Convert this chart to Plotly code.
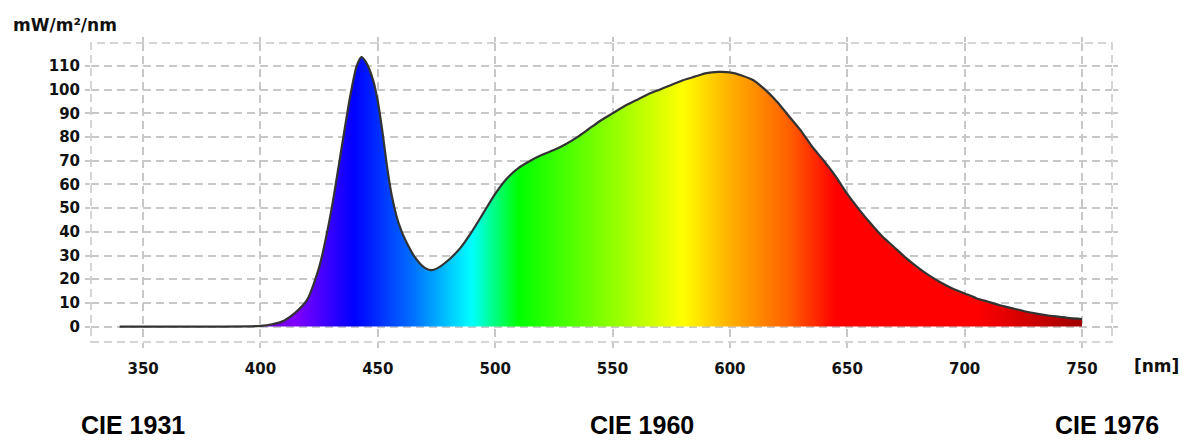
import plotly.graph_objects as go

wavelength_nm = [340, 400, 405, 410, 415, 420, 425, 430, 435, 438, 441, 443, 445, 448, 450, 452, 454,
                 456, 458, 460, 462, 465, 468, 470, 473, 476, 480, 485, 490, 495, 500, 505, 510, 515,
                 520, 525, 530, 535, 540, 545, 550, 555, 560, 565, 570, 575, 580, 585, 590, 595, 600,
                 605, 610, 615, 620, 625, 630, 635, 640, 645, 650, 655, 660, 665, 670, 675, 680, 685,
                 690, 695, 700, 705, 710, 715, 720, 725, 730, 735, 740, 745, 750]
irradiance = [0, 0.3, 1, 2.5, 6, 11.5, 25, 48, 78, 96, 110, 113.8, 111.5, 104, 95, 82, 67,
              55, 46.5, 40.5, 36, 30.5, 26.5, 24.8, 23.8, 25, 28, 33, 40, 48, 56, 62.5, 67, 70,
              72.5, 74.5, 77, 80, 83.5, 87, 90, 93, 95.5, 98, 100, 102, 104, 105.5, 107, 107.5, 107.3,
              106, 104, 100, 95, 89, 83, 76, 70, 63.5, 56, 49.5, 43.5, 38, 33.5, 29, 25, 21.5,
              18.5, 16, 14, 12, 10.5, 9, 7.8, 6.6, 5.6, 4.8, 4.2, 3.6, 3.2]

# spectral colour stops (wavelength, colour)
spec_wl = [400, 415, 440, 465, 490, 500, 510, 550, 580, 600, 625, 645, 705, 750]
spec_col = ['#6000c0', '#8000ff', '#0000ff', '#0070ff', '#00ffff', '#00ff80', '#00ff00',
            '#90ff00', '#ffff00', '#ffb000', '#ff6000', '#ff0000', '#ff0000', '#a00000']

x_ticks = [350, 400, 450, 500, 550, 600, 650, 700, 750]
y_ticks = [0, 10, 20, 30, 40, 50, 60, 70, 80, 90, 100, 110]
footer_labels = ["CIE 1931", "CIE 1960", "CIE 1976"]

g0, g1 = spec_wl[0], spec_wl[-1]
colorscale = [[(w - g0) / (g1 - g0), c] for w, c in zip(spec_wl, spec_col)]

fig = go.Figure()
fig.add_trace(go.Scatter(
    x=wavelength_nm, y=irradiance, mode='lines', fill='tozeroy',
    line=dict(color='#333333', width=2.2, shape='spline', smoothing=0.6),
    fillgradient=dict(type='horizontal', colorscale=colorscale, start=g0, stop=g1),
    hoverinfo='skip', showlegend=False,
))

grid = '#c8c8c8'
tick_font = dict(family='DejaVu Sans', size=15, color='#111111', weight='bold')
fig.update_xaxes(range=[327.8, 762.8], tickvals=x_ticks, ticktext=[str(v) for v in x_ticks],
                 showgrid=True, gridcolor=grid, gridwidth=1.5, griddash='8px,5px',
                 zeroline=False, showline=False, ticks='outside', ticklen=5, tickcolor=grid,
                 tickwidth=1.5, mirror='ticks', tickfont=tick_font, ticklabelstandoff=8)
fig.update_yaxes(range=[-6.5, 119.7], tickvals=y_ticks, ticktext=[str(v) for v in y_ticks],
                 showgrid=True, gridcolor=grid, gridwidth=1.5, griddash='8px,5px',
                 zeroline=False, showline=False, ticks='outside', ticklen=5, tickcolor=grid,
                 tickwidth=1.5, mirror='ticks', tickfont=tick_font, ticklabelstandoff=2)

fig.add_shape(type='rect', xref='paper', yref='paper', x0=0, y0=0, x1=1, y1=1,
              line=dict(color=grid, width=1.5, dash='8px,5px'), layer='below')

fig.add_annotation(text='mW/m²/nm', xref='paper', yref='paper', x=-80 / 1021, y=1 + 18 / 299,
                   xanchor='left', yanchor='middle', showarrow=False,
                   font=dict(family='DejaVu Sans', size=17, color='#111111', weight='bold'))
fig.add_annotation(text='[nm]', xref='paper', yref='paper', x=(1156 - 91) / 1021, y=-(366 - 342) / 299,
                   xanchor='center', yanchor='middle', showarrow=False,
                   font=dict(family='DejaVu Sans', size=17, color='#111111', weight='bold'))
for lbl, cx in zip(footer_labels, [133, 642, 1107]):
    fig.add_annotation(text=lbl, xref='paper', yref='paper', x=(cx - 91) / 1021, y=-(425 - 342) / 299,
                       xanchor='center', yanchor='middle', showarrow=False,
                       font=dict(family='Liberation Sans', size=25, color='#000000', weight='bold'))

fig.update_layout(width=1191, height=433, margin=dict(l=83, r=87, t=35, b=99),
                  paper_bgcolor='white', plot_bgcolor='white')
fig.write_html('out.html')
